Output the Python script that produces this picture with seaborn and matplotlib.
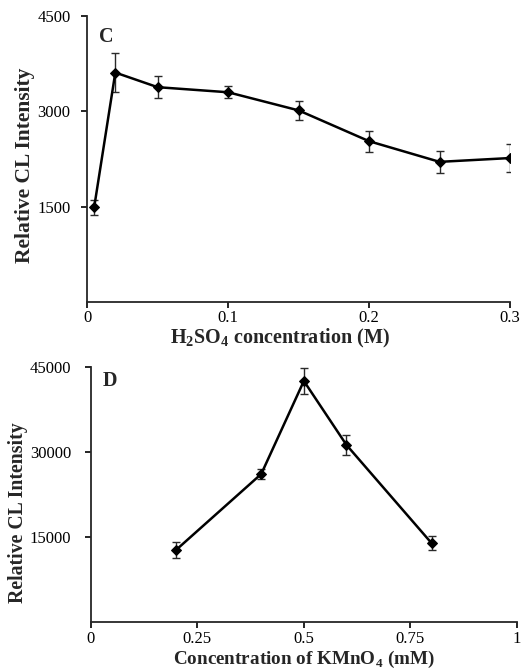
import matplotlib
matplotlib.use("Agg")
import matplotlib.pyplot as plt
import seaborn as sns
import pandas as pd

# Panel C: effect of sulfuric acid concentration
h2so4_conc = [0.005, 0.02, 0.05, 0.10, 0.15, 0.20, 0.25, 0.30]
h2so4_cl = [1490, 3610, 3380, 3300, 3015, 2530, 2205, 2265]
h2so4_err = [115, 305, 170, 97, 147, 163, 170, 223]

# Panel D: effect of permanganate concentration
kmno4_conc = [0.2, 0.4, 0.5, 0.6, 0.8]
kmno4_cl = [12650, 26060, 42470, 31180, 13830]
kmno4_err = [1350, 900, 2300, 1830, 1270]

c_xticks = [0, 0.1, 0.2, 0.3]
c_xticklabels = ["0", "0.1", "0.2", "0.3"]
c_yticks = [1500, 3000, 4500]
d_xticks = [0, 0.25, 0.5, 0.75, 1]
d_xticklabels = ["0", "0.25", "0.5", "0.75", "1"]
d_yticks = [15000, 30000, 45000]

sns.set_style("ticks")
plt.rcParams["font.family"] = ["Liberation Serif", "DejaVu Serif"]
plt.rcParams["mathtext.fontset"] = "custom"
plt.rcParams["mathtext.rm"] = "Liberation Serif"
plt.rcParams["mathtext.bf"] = "Liberation Serif:bold"
plt.rcParams["axes.linewidth"] = 1.3
plt.rcParams["xtick.major.width"] = 1.2
plt.rcParams["ytick.major.width"] = 1.2
plt.rcParams["xtick.major.size"] = 4
plt.rcParams["ytick.major.size"] = 4

fig = plt.figure(figsize=(5.28, 6.72), dpi=100)
ax_c = fig.add_axes([0.165, 0.5506, 0.801, 0.4256])
ax_d = fig.add_axes([0.172, 0.0749, 0.807, 0.3795])


def draw_panel(ax, x, y, err, letter, letter_pos, xlim, ylim, xticks, xticklabels,
               yticks, xlabel, xlabel_pos, ylabel_pos, xpad, ypad,
               label_size, ylabel_size):
    df = pd.DataFrame({"x": x, "y": y})
    ax.errorbar(x, y, yerr=err, fmt="none", ecolor="#2a2a2a", elinewidth=1.0,
                capsize=3, capthick=1.0, zorder=2)
    sns.lineplot(data=df, x="x", y="y", ax=ax, color="black", linewidth=1.8,
                 marker="D", markersize=5, markeredgecolor="black",
                 markerfacecolor="black", zorder=3)
    ax.set_xlim(*xlim)
    ax.set_ylim(*ylim)
    ax.set_xticks(xticks)
    ax.set_xticklabels(xticklabels)
    ax.set_yticks(yticks)
    ax.tick_params(axis="x", labelsize=12, colors="black", pad=xpad)
    ax.tick_params(axis="y", labelsize=12, colors="black", pad=ypad)
    ax.set_xlabel(xlabel, fontsize=label_size, fontweight="bold")
    ax.xaxis.label.set_va("center")
    ax.xaxis.set_label_coords(*xlabel_pos)
    ax.set_ylabel("Relative CL Intensity", fontsize=ylabel_size, fontweight="bold")
    ax.yaxis.label.set_va("center")
    ax.yaxis.set_label_coords(*ylabel_pos)
    ax.text(letter_pos[0], letter_pos[1], letter, transform=ax.transAxes,
            fontsize=14.5, fontweight="bold", ha="center", va="center")
    sns.despine(ax=ax)


draw_panel(ax_c, h2so4_conc, h2so4_cl, h2so4_err, "C", (0.045, 0.928),
           (0, 0.3), (0, 4500), c_xticks, c_xticklabels, c_yticks,
           r"H$_\mathbf{2}$SO$_\mathbf{4}$ concentration (M)",
           (0.455, -0.128), (-0.147, 0.479), 2, 8, 14.5, 15.5)
draw_panel(ax_d, kmno4_conc, kmno4_cl, kmno4_err, "D", (0.045, 0.942),
           (0, 1), (0, 45000), d_xticks, d_xticklabels, d_yticks,
           r"Concentration of KMnO$_\mathbf{4}$ (mM)",
           (0.5, -0.150), (-0.171, 0.428), 3, 10, 13.8, 14.2)

fig.savefig("out.png", dpi=100)
